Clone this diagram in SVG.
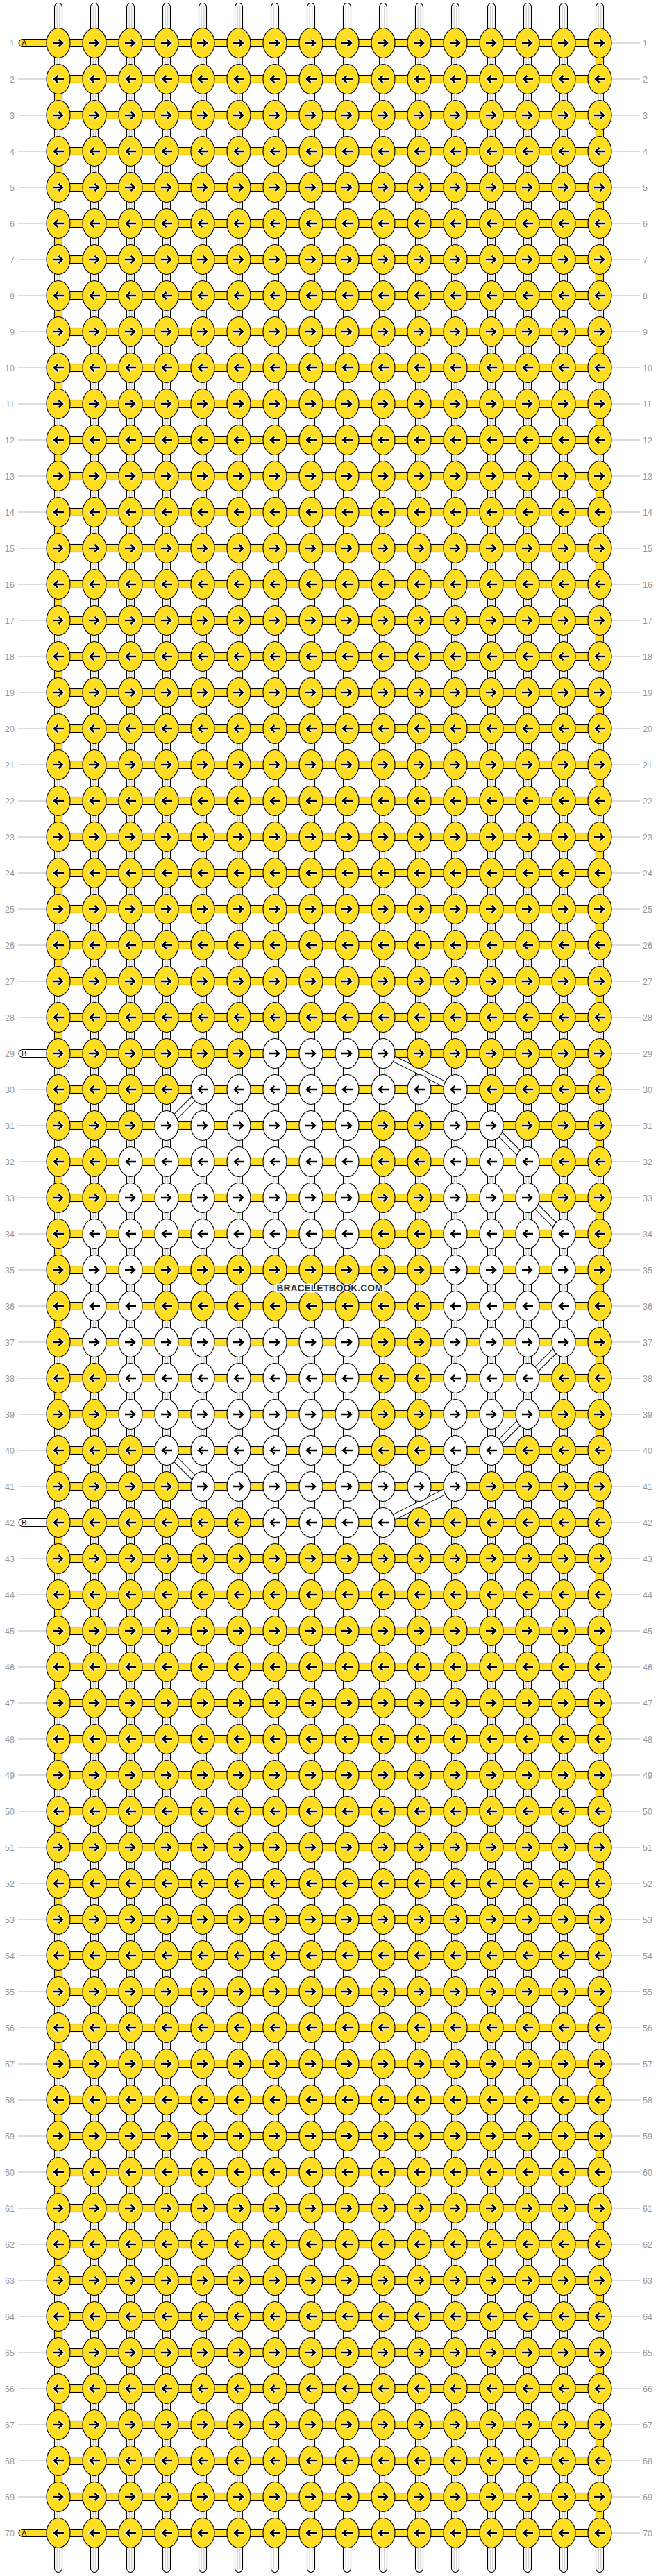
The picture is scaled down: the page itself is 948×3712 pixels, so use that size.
<svg xmlns="http://www.w3.org/2000/svg" width="948" height="3712" viewBox="0 0 948 3712">
<style>
.n{font-family:"Liberation Sans",Arial,sans-serif;font-size:12.5px;fill:#999}
.nl{text-anchor:end}
.g{stroke:#bbb;stroke-width:1;fill:none}
.y{fill:#ffdd22;stroke:#000;stroke-width:1.1}
.w{fill:#fff;stroke:#000;stroke-width:1.1}
.ar{fill:none;stroke:#000;stroke-width:2.4}
.ah{fill:none;stroke:#fff;stroke-width:5}
.il{stroke:#bbb;stroke-width:0.9;fill:none}
.st{font-family:"Liberation Sans",Arial,sans-serif;font-size:11px;fill:#000}
</style>
<defs>
<path id="pR" d="M-8,0H5.5M0.5,-5L6,0L0.5,5"/>
<path id="pL" d="M8,0H-5.5M-0.5,-5L-6,0L-0.5,5"/>
<g id="YR"><ellipse class="y" rx="17" ry="21.5"/><use href="#pR" class="ah"/><use href="#pR" class="ar"/></g>
<g id="YL"><ellipse class="y" rx="17" ry="21.5"/><use href="#pL" class="ah"/><use href="#pL" class="ar"/></g>
<g id="WR"><ellipse class="w" rx="17" ry="21.5"/><use href="#pR" class="ar"/></g>
<g id="WL"><ellipse class="w" rx="17" ry="21.5"/><use href="#pL" class="ar"/></g>
<g id="rowR"><use href="#YR" x="84"/><use href="#YR" x="136"/><use href="#YR" x="188"/><use href="#YR" x="240"/><use href="#YR" x="292"/><use href="#YR" x="344"/><use href="#YR" x="396"/><use href="#YR" x="448"/><use href="#YR" x="500"/><use href="#YR" x="552"/><use href="#YR" x="604"/><use href="#YR" x="656"/><use href="#YR" x="708"/><use href="#YR" x="760"/><use href="#YR" x="812"/><use href="#YR" x="864"/></g>
<g id="rowL"><use href="#YL" x="84"/><use href="#YL" x="136"/><use href="#YL" x="188"/><use href="#YL" x="240"/><use href="#YL" x="292"/><use href="#YL" x="344"/><use href="#YL" x="396"/><use href="#YL" x="448"/><use href="#YL" x="500"/><use href="#YL" x="552"/><use href="#YL" x="604"/><use href="#YL" x="656"/><use href="#YL" x="708"/><use href="#YL" x="760"/><use href="#YL" x="812"/><use href="#YL" x="864"/></g>
<rect id="hs" class="y" x="84" y="-5.5" width="780" height="11"/>
<g id="tp"><rect class="y" x="858.5" y="15" width="11" height="22"/><rect class="y" x="78.5" y="67" width="11" height="22"/></g>
<g id="vs"><rect class="w" x="-5.5" y="4.5" width="11" height="3702" rx="5.5"/><path class="il" d="M-1.8,9V3702M1.8,9V3702"/></g>
<path id="bd" d="M552,1518L656,1570M292,1570L240,1622M708,1622L760,1674M760,1726L812,1778M812,1934L760,1986M760,2038L708,2090M240,2090L292,2142M656,2142L552,2194"/>
</defs>
<g id="warp-threads">
<use href="#vs" x="84"/><use href="#vs" x="136"/><use href="#vs" x="188"/><use href="#vs" x="240"/><use href="#vs" x="292"/><use href="#vs" x="344"/><use href="#vs" x="396"/><use href="#vs" x="448"/><use href="#vs" x="500"/><use href="#vs" x="552"/><use href="#vs" x="604"/><use href="#vs" x="656"/><use href="#vs" x="708"/><use href="#vs" x="760"/><use href="#vs" x="812"/><use href="#vs" x="864"/>
</g>
<g id="connectors">
<g id="row-threads">
<use href="#hs" y="62"/><use href="#hs" y="114"/><use href="#hs" y="166"/><use href="#hs" y="218"/><use href="#hs" y="270"/><use href="#hs" y="322"/><use href="#hs" y="374"/><use href="#hs" y="426"/><use href="#hs" y="478"/><use href="#hs" y="530"/>
<use href="#hs" y="582"/><use href="#hs" y="634"/><use href="#hs" y="686"/><use href="#hs" y="738"/><use href="#hs" y="790"/><use href="#hs" y="842"/><use href="#hs" y="894"/><use href="#hs" y="946"/><use href="#hs" y="998"/><use href="#hs" y="1050"/>
<use href="#hs" y="1102"/><use href="#hs" y="1154"/><use href="#hs" y="1206"/><use href="#hs" y="1258"/><use href="#hs" y="1310"/><use href="#hs" y="1362"/><use href="#hs" y="1414"/><use href="#hs" y="1466"/><use href="#hs" y="1518"/><use href="#hs" y="1570"/>
<use href="#hs" y="1622"/><use href="#hs" y="1674"/><use href="#hs" y="1726"/><use href="#hs" y="1778"/><use href="#hs" y="1830"/><use href="#hs" y="1882"/><use href="#hs" y="1934"/><use href="#hs" y="1986"/><use href="#hs" y="2038"/><use href="#hs" y="2090"/>
<use href="#hs" y="2142"/><use href="#hs" y="2194"/><use href="#hs" y="2246"/><use href="#hs" y="2298"/><use href="#hs" y="2350"/><use href="#hs" y="2402"/><use href="#hs" y="2454"/><use href="#hs" y="2506"/><use href="#hs" y="2558"/><use href="#hs" y="2610"/>
<use href="#hs" y="2662"/><use href="#hs" y="2714"/><use href="#hs" y="2766"/><use href="#hs" y="2818"/><use href="#hs" y="2870"/><use href="#hs" y="2922"/><use href="#hs" y="2974"/><use href="#hs" y="3026"/><use href="#hs" y="3078"/><use href="#hs" y="3130"/>
<use href="#hs" y="3182"/><use href="#hs" y="3234"/><use href="#hs" y="3286"/><use href="#hs" y="3338"/><use href="#hs" y="3390"/><use href="#hs" y="3442"/><use href="#hs" y="3494"/><use href="#hs" y="3546"/><use href="#hs" y="3598"/><use href="#hs" y="3650"/>
</g>
<g id="turns">
<use href="#tp" y="62"/><use href="#tp" y="166"/><use href="#tp" y="270"/><use href="#tp" y="374"/><use href="#tp" y="478"/><use href="#tp" y="582"/><use href="#tp" y="686"/><use href="#tp" y="790"/><use href="#tp" y="894"/><use href="#tp" y="998"/>
<use href="#tp" y="1102"/><use href="#tp" y="1206"/><use href="#tp" y="1310"/><use href="#tp" y="1414"/><use href="#tp" y="1518"/><use href="#tp" y="1622"/><use href="#tp" y="1726"/><use href="#tp" y="1830"/><use href="#tp" y="1934"/><use href="#tp" y="2038"/>
<use href="#tp" y="2142"/><use href="#tp" y="2246"/><use href="#tp" y="2350"/><use href="#tp" y="2454"/><use href="#tp" y="2558"/><use href="#tp" y="2662"/><use href="#tp" y="2766"/><use href="#tp" y="2870"/><use href="#tp" y="2974"/><use href="#tp" y="3078"/>
<use href="#tp" y="3182"/><use href="#tp" y="3286"/><use href="#tp" y="3390"/><use href="#tp" y="3494"/>
<rect class="y" x="858.5" y="3613" width="11" height="22"/>
</g>
<g id="thread-b-floats">
<use href="#bd" fill="none" stroke="#000" stroke-width="9"/>
<use href="#bd" fill="none" stroke="#fff" stroke-width="7"/>
</g>
<g id="end-threads">
<g id="thread-a-start"><rect class="y" x="27" y="56.5" width="50" height="11" rx="5.5"/><text class="st" x="31" y="66">A</text></g>
<g id="thread-b-start"><rect class="w" x="27" y="1512.5" width="50" height="11" rx="5.5"/><text class="st" x="31" y="1522">B</text></g>
<g id="thread-b-end"><rect class="w" x="27" y="2188.5" width="50" height="11" rx="5.5"/><text class="st" x="31" y="2198">B</text></g>
<g id="thread-a-end"><rect class="y" x="27" y="3644.5" width="50" height="11" rx="5.5"/><text class="st" x="31" y="3654">A</text></g>
</g>
</g>
<g id="knots">
<use id="row1" href="#rowR" y="62"/><use id="row2" href="#rowL" y="114"/><use id="row3" href="#rowR" y="166"/><use id="row4" href="#rowL" y="218"/><use id="row5" href="#rowR" y="270"/>
<use id="row6" href="#rowL" y="322"/><use id="row7" href="#rowR" y="374"/><use id="row8" href="#rowL" y="426"/><use id="row9" href="#rowR" y="478"/><use id="row10" href="#rowL" y="530"/>
<use id="row11" href="#rowR" y="582"/><use id="row12" href="#rowL" y="634"/><use id="row13" href="#rowR" y="686"/><use id="row14" href="#rowL" y="738"/><use id="row15" href="#rowR" y="790"/>
<use id="row16" href="#rowL" y="842"/><use id="row17" href="#rowR" y="894"/><use id="row18" href="#rowL" y="946"/><use id="row19" href="#rowR" y="998"/><use id="row20" href="#rowL" y="1050"/>
<use id="row21" href="#rowR" y="1102"/><use id="row22" href="#rowL" y="1154"/><use id="row23" href="#rowR" y="1206"/><use id="row24" href="#rowL" y="1258"/><use id="row25" href="#rowR" y="1310"/>
<use id="row26" href="#rowL" y="1362"/><use id="row27" href="#rowR" y="1414"/><use id="row28" href="#rowL" y="1466"/>
<g id="row29" transform="translate(0,1518)"><use id="k29-1" href="#YR" x="84"/><use id="k29-2" href="#YR" x="136"/><use id="k29-3" href="#YR" x="188"/><use id="k29-4" href="#YR" x="240"/><use id="k29-5" href="#YR" x="292"/><use id="k29-6" href="#YR" x="344"/><use id="k29-7" href="#WR" x="396"/><use id="k29-8" href="#WR" x="448"/><use id="k29-9" href="#WR" x="500"/><use id="k29-10" href="#WR" x="552"/><use id="k29-11" href="#YR" x="604"/><use id="k29-12" href="#YR" x="656"/><use id="k29-13" href="#YR" x="708"/><use id="k29-14" href="#YR" x="760"/><use id="k29-15" href="#YR" x="812"/><use id="k29-16" href="#YR" x="864"/></g>
<g id="row30" transform="translate(0,1570)"><use id="k30-1" href="#YL" x="84"/><use id="k30-2" href="#YL" x="136"/><use id="k30-3" href="#YL" x="188"/><use id="k30-4" href="#YL" x="240"/><use id="k30-5" href="#WL" x="292"/><use id="k30-6" href="#WL" x="344"/><use id="k30-7" href="#WL" x="396"/><use id="k30-8" href="#WL" x="448"/><use id="k30-9" href="#WL" x="500"/><use id="k30-10" href="#WL" x="552"/><use id="k30-11" href="#WL" x="604"/><use id="k30-12" href="#WL" x="656"/><use id="k30-13" href="#YL" x="708"/><use id="k30-14" href="#YL" x="760"/><use id="k30-15" href="#YL" x="812"/><use id="k30-16" href="#YL" x="864"/></g>
<g id="row31" transform="translate(0,1622)"><use id="k31-1" href="#YR" x="84"/><use id="k31-2" href="#YR" x="136"/><use id="k31-3" href="#YR" x="188"/><use id="k31-4" href="#WR" x="240"/><use id="k31-5" href="#WR" x="292"/><use id="k31-6" href="#WR" x="344"/><use id="k31-7" href="#WR" x="396"/><use id="k31-8" href="#WR" x="448"/><use id="k31-9" href="#WR" x="500"/><use id="k31-10" href="#YR" x="552"/><use id="k31-11" href="#YR" x="604"/><use id="k31-12" href="#WR" x="656"/><use id="k31-13" href="#WR" x="708"/><use id="k31-14" href="#YR" x="760"/><use id="k31-15" href="#YR" x="812"/><use id="k31-16" href="#YR" x="864"/></g>
<g id="row32" transform="translate(0,1674)"><use id="k32-1" href="#YL" x="84"/><use id="k32-2" href="#YL" x="136"/><use id="k32-3" href="#WL" x="188"/><use id="k32-4" href="#WL" x="240"/><use id="k32-5" href="#WL" x="292"/><use id="k32-6" href="#WL" x="344"/><use id="k32-7" href="#WL" x="396"/><use id="k32-8" href="#WL" x="448"/><use id="k32-9" href="#WL" x="500"/><use id="k32-10" href="#YL" x="552"/><use id="k32-11" href="#YL" x="604"/><use id="k32-12" href="#WL" x="656"/><use id="k32-13" href="#WL" x="708"/><use id="k32-14" href="#WL" x="760"/><use id="k32-15" href="#YL" x="812"/><use id="k32-16" href="#YL" x="864"/></g>
<g id="row33" transform="translate(0,1726)"><use id="k33-1" href="#YR" x="84"/><use id="k33-2" href="#YR" x="136"/><use id="k33-3" href="#WR" x="188"/><use id="k33-4" href="#WR" x="240"/><use id="k33-5" href="#WR" x="292"/><use id="k33-6" href="#WR" x="344"/><use id="k33-7" href="#WR" x="396"/><use id="k33-8" href="#WR" x="448"/><use id="k33-9" href="#WR" x="500"/><use id="k33-10" href="#YR" x="552"/><use id="k33-11" href="#YR" x="604"/><use id="k33-12" href="#WR" x="656"/><use id="k33-13" href="#WR" x="708"/><use id="k33-14" href="#WR" x="760"/><use id="k33-15" href="#YR" x="812"/><use id="k33-16" href="#YR" x="864"/></g>
<g id="row34" transform="translate(0,1778)"><use id="k34-1" href="#YL" x="84"/><use id="k34-2" href="#WL" x="136"/><use id="k34-3" href="#WL" x="188"/><use id="k34-4" href="#WL" x="240"/><use id="k34-5" href="#WL" x="292"/><use id="k34-6" href="#WL" x="344"/><use id="k34-7" href="#WL" x="396"/><use id="k34-8" href="#WL" x="448"/><use id="k34-9" href="#WL" x="500"/><use id="k34-10" href="#YL" x="552"/><use id="k34-11" href="#YL" x="604"/><use id="k34-12" href="#WL" x="656"/><use id="k34-13" href="#WL" x="708"/><use id="k34-14" href="#WL" x="760"/><use id="k34-15" href="#WL" x="812"/><use id="k34-16" href="#YL" x="864"/></g>
<g id="row35" transform="translate(0,1830)"><use id="k35-1" href="#YR" x="84"/><use id="k35-2" href="#WR" x="136"/><use id="k35-3" href="#WR" x="188"/><use id="k35-4" href="#YR" x="240"/><use id="k35-5" href="#YR" x="292"/><use id="k35-6" href="#YR" x="344"/><use id="k35-7" href="#YR" x="396"/><use id="k35-8" href="#YR" x="448"/><use id="k35-9" href="#YR" x="500"/><use id="k35-10" href="#YR" x="552"/><use id="k35-11" href="#YR" x="604"/><use id="k35-12" href="#WR" x="656"/><use id="k35-13" href="#WR" x="708"/><use id="k35-14" href="#WR" x="760"/><use id="k35-15" href="#WR" x="812"/><use id="k35-16" href="#YR" x="864"/></g>
<g id="row36" transform="translate(0,1882)"><use id="k36-1" href="#YL" x="84"/><use id="k36-2" href="#WL" x="136"/><use id="k36-3" href="#WL" x="188"/><use id="k36-4" href="#YL" x="240"/><use id="k36-5" href="#YL" x="292"/><use id="k36-6" href="#YL" x="344"/><use id="k36-7" href="#YL" x="396"/><use id="k36-8" href="#YL" x="448"/><use id="k36-9" href="#YL" x="500"/><use id="k36-10" href="#YL" x="552"/><use id="k36-11" href="#YL" x="604"/><use id="k36-12" href="#WL" x="656"/><use id="k36-13" href="#WL" x="708"/><use id="k36-14" href="#WL" x="760"/><use id="k36-15" href="#WL" x="812"/><use id="k36-16" href="#YL" x="864"/></g>
<g id="row37" transform="translate(0,1934)"><use id="k37-1" href="#YR" x="84"/><use id="k37-2" href="#WR" x="136"/><use id="k37-3" href="#WR" x="188"/><use id="k37-4" href="#WR" x="240"/><use id="k37-5" href="#WR" x="292"/><use id="k37-6" href="#WR" x="344"/><use id="k37-7" href="#WR" x="396"/><use id="k37-8" href="#WR" x="448"/><use id="k37-9" href="#WR" x="500"/><use id="k37-10" href="#YR" x="552"/><use id="k37-11" href="#YR" x="604"/><use id="k37-12" href="#WR" x="656"/><use id="k37-13" href="#WR" x="708"/><use id="k37-14" href="#WR" x="760"/><use id="k37-15" href="#WR" x="812"/><use id="k37-16" href="#YR" x="864"/></g>
<g id="row38" transform="translate(0,1986)"><use id="k38-1" href="#YL" x="84"/><use id="k38-2" href="#YL" x="136"/><use id="k38-3" href="#WL" x="188"/><use id="k38-4" href="#WL" x="240"/><use id="k38-5" href="#WL" x="292"/><use id="k38-6" href="#WL" x="344"/><use id="k38-7" href="#WL" x="396"/><use id="k38-8" href="#WL" x="448"/><use id="k38-9" href="#WL" x="500"/><use id="k38-10" href="#YL" x="552"/><use id="k38-11" href="#YL" x="604"/><use id="k38-12" href="#WL" x="656"/><use id="k38-13" href="#WL" x="708"/><use id="k38-14" href="#WL" x="760"/><use id="k38-15" href="#YL" x="812"/><use id="k38-16" href="#YL" x="864"/></g>
<g id="row39" transform="translate(0,2038)"><use id="k39-1" href="#YR" x="84"/><use id="k39-2" href="#YR" x="136"/><use id="k39-3" href="#WR" x="188"/><use id="k39-4" href="#WR" x="240"/><use id="k39-5" href="#WR" x="292"/><use id="k39-6" href="#WR" x="344"/><use id="k39-7" href="#WR" x="396"/><use id="k39-8" href="#WR" x="448"/><use id="k39-9" href="#WR" x="500"/><use id="k39-10" href="#YR" x="552"/><use id="k39-11" href="#YR" x="604"/><use id="k39-12" href="#WR" x="656"/><use id="k39-13" href="#WR" x="708"/><use id="k39-14" href="#WR" x="760"/><use id="k39-15" href="#YR" x="812"/><use id="k39-16" href="#YR" x="864"/></g>
<g id="row40" transform="translate(0,2090)"><use id="k40-1" href="#YL" x="84"/><use id="k40-2" href="#YL" x="136"/><use id="k40-3" href="#YL" x="188"/><use id="k40-4" href="#WL" x="240"/><use id="k40-5" href="#WL" x="292"/><use id="k40-6" href="#WL" x="344"/><use id="k40-7" href="#WL" x="396"/><use id="k40-8" href="#WL" x="448"/><use id="k40-9" href="#WL" x="500"/><use id="k40-10" href="#YL" x="552"/><use id="k40-11" href="#YL" x="604"/><use id="k40-12" href="#WL" x="656"/><use id="k40-13" href="#WL" x="708"/><use id="k40-14" href="#YL" x="760"/><use id="k40-15" href="#YL" x="812"/><use id="k40-16" href="#YL" x="864"/></g>
<g id="row41" transform="translate(0,2142)"><use id="k41-1" href="#YR" x="84"/><use id="k41-2" href="#YR" x="136"/><use id="k41-3" href="#YR" x="188"/><use id="k41-4" href="#YR" x="240"/><use id="k41-5" href="#WR" x="292"/><use id="k41-6" href="#WR" x="344"/><use id="k41-7" href="#WR" x="396"/><use id="k41-8" href="#WR" x="448"/><use id="k41-9" href="#WR" x="500"/><use id="k41-10" href="#WR" x="552"/><use id="k41-11" href="#WR" x="604"/><use id="k41-12" href="#WR" x="656"/><use id="k41-13" href="#YR" x="708"/><use id="k41-14" href="#YR" x="760"/><use id="k41-15" href="#YR" x="812"/><use id="k41-16" href="#YR" x="864"/></g>
<g id="row42" transform="translate(0,2194)"><use id="k42-1" href="#YL" x="84"/><use id="k42-2" href="#YL" x="136"/><use id="k42-3" href="#YL" x="188"/><use id="k42-4" href="#YL" x="240"/><use id="k42-5" href="#YL" x="292"/><use id="k42-6" href="#YL" x="344"/><use id="k42-7" href="#WL" x="396"/><use id="k42-8" href="#WL" x="448"/><use id="k42-9" href="#WL" x="500"/><use id="k42-10" href="#WL" x="552"/><use id="k42-11" href="#YL" x="604"/><use id="k42-12" href="#YL" x="656"/><use id="k42-13" href="#YL" x="708"/><use id="k42-14" href="#YL" x="760"/><use id="k42-15" href="#YL" x="812"/><use id="k42-16" href="#YL" x="864"/></g>
<use id="row43" href="#rowR" y="2246"/><use id="row44" href="#rowL" y="2298"/><use id="row45" href="#rowR" y="2350"/>
<use id="row46" href="#rowL" y="2402"/><use id="row47" href="#rowR" y="2454"/><use id="row48" href="#rowL" y="2506"/><use id="row49" href="#rowR" y="2558"/><use id="row50" href="#rowL" y="2610"/>
<use id="row51" href="#rowR" y="2662"/><use id="row52" href="#rowL" y="2714"/><use id="row53" href="#rowR" y="2766"/><use id="row54" href="#rowL" y="2818"/><use id="row55" href="#rowR" y="2870"/>
<use id="row56" href="#rowL" y="2922"/><use id="row57" href="#rowR" y="2974"/><use id="row58" href="#rowL" y="3026"/><use id="row59" href="#rowR" y="3078"/><use id="row60" href="#rowL" y="3130"/>
<use id="row61" href="#rowR" y="3182"/><use id="row62" href="#rowL" y="3234"/><use id="row63" href="#rowR" y="3286"/><use id="row64" href="#rowL" y="3338"/><use id="row65" href="#rowR" y="3390"/>
<use id="row66" href="#rowL" y="3442"/><use id="row67" href="#rowR" y="3494"/><use id="row68" href="#rowL" y="3546"/><use id="row69" href="#rowR" y="3598"/><use id="row70" href="#rowL" y="3650"/>
</g>
<g id="row-labels">
<path class="g" d="M26,114H66M26,166H66M26,218H66M26,270H66M26,322H66M26,374H66M26,426H66M26,478H66M26,530H66M26,582H66M26,634H66M26,686H66M26,738H66M26,790H66M26,842H66M26,894H66M26,946H66M26,998H66M26,1050H66M26,1102H66M26,1154H66M26,1206H66M26,1258H66M26,1310H66M26,1362H66M26,1414H66M26,1466H66M26,1570H66M26,1622H66M26,1674H66M26,1726H66M26,1778H66M26,1830H66M26,1882H66M26,1934H66M26,1986H66M26,2038H66M26,2090H66M26,2142H66M26,2246H66M26,2298H66M26,2350H66M26,2402H66M26,2454H66M26,2506H66M26,2558H66M26,2610H66M26,2662H66M26,2714H66M26,2766H66M26,2818H66M26,2870H66M26,2922H66M26,2974H66M26,3026H66M26,3078H66M26,3130H66M26,3182H66M26,3234H66M26,3286H66M26,3338H66M26,3390H66M26,3442H66M26,3494H66M26,3546H66M26,3598H66"/>
<path class="g" d="M882,62H922M882,114H922M882,166H922M882,218H922M882,270H922M882,322H922M882,374H922M882,426H922M882,478H922M882,530H922M882,582H922M882,634H922M882,686H922M882,738H922M882,790H922M882,842H922M882,894H922M882,946H922M882,998H922M882,1050H922M882,1102H922M882,1154H922M882,1206H922M882,1258H922M882,1310H922M882,1362H922M882,1414H922M882,1466H922M882,1518H922M882,1570H922M882,1622H922M882,1674H922M882,1726H922M882,1778H922M882,1830H922M882,1882H922M882,1934H922M882,1986H922M882,2038H922M882,2090H922M882,2142H922M882,2194H922M882,2246H922M882,2298H922M882,2350H922M882,2402H922M882,2454H922M882,2506H922M882,2558H922M882,2610H922M882,2662H922M882,2714H922M882,2766H922M882,2818H922M882,2870H922M882,2922H922M882,2974H922M882,3026H922M882,3078H922M882,3130H922M882,3182H922M882,3234H922M882,3286H922M882,3338H922M882,3390H922M882,3442H922M882,3494H922M882,3546H922M882,3598H922M882,3650H922"/>
<g transform="translate(0,4.5)">
<text class="n nl" x="21" y="62">1</text><text class="n nl" x="21" y="114">2</text><text class="n nl" x="21" y="166">3</text><text class="n nl" x="21" y="218">4</text><text class="n nl" x="21" y="270">5</text><text class="n nl" x="21" y="322">6</text><text class="n nl" x="21" y="374">7</text><text class="n nl" x="21" y="426">8</text><text class="n nl" x="21" y="478">9</text><text class="n nl" x="21" y="530">10</text>
<text class="n nl" x="21" y="582">11</text><text class="n nl" x="21" y="634">12</text><text class="n nl" x="21" y="686">13</text><text class="n nl" x="21" y="738">14</text><text class="n nl" x="21" y="790">15</text><text class="n nl" x="21" y="842">16</text><text class="n nl" x="21" y="894">17</text><text class="n nl" x="21" y="946">18</text><text class="n nl" x="21" y="998">19</text><text class="n nl" x="21" y="1050">20</text>
<text class="n nl" x="21" y="1102">21</text><text class="n nl" x="21" y="1154">22</text><text class="n nl" x="21" y="1206">23</text><text class="n nl" x="21" y="1258">24</text><text class="n nl" x="21" y="1310">25</text><text class="n nl" x="21" y="1362">26</text><text class="n nl" x="21" y="1414">27</text><text class="n nl" x="21" y="1466">28</text><text class="n nl" x="21" y="1518">29</text><text class="n nl" x="21" y="1570">30</text>
<text class="n nl" x="21" y="1622">31</text><text class="n nl" x="21" y="1674">32</text><text class="n nl" x="21" y="1726">33</text><text class="n nl" x="21" y="1778">34</text><text class="n nl" x="21" y="1830">35</text><text class="n nl" x="21" y="1882">36</text><text class="n nl" x="21" y="1934">37</text><text class="n nl" x="21" y="1986">38</text><text class="n nl" x="21" y="2038">39</text><text class="n nl" x="21" y="2090">40</text>
<text class="n nl" x="21" y="2142">41</text><text class="n nl" x="21" y="2194">42</text><text class="n nl" x="21" y="2246">43</text><text class="n nl" x="21" y="2298">44</text><text class="n nl" x="21" y="2350">45</text><text class="n nl" x="21" y="2402">46</text><text class="n nl" x="21" y="2454">47</text><text class="n nl" x="21" y="2506">48</text><text class="n nl" x="21" y="2558">49</text><text class="n nl" x="21" y="2610">50</text>
<text class="n nl" x="21" y="2662">51</text><text class="n nl" x="21" y="2714">52</text><text class="n nl" x="21" y="2766">53</text><text class="n nl" x="21" y="2818">54</text><text class="n nl" x="21" y="2870">55</text><text class="n nl" x="21" y="2922">56</text><text class="n nl" x="21" y="2974">57</text><text class="n nl" x="21" y="3026">58</text><text class="n nl" x="21" y="3078">59</text><text class="n nl" x="21" y="3130">60</text>
<text class="n nl" x="21" y="3182">61</text><text class="n nl" x="21" y="3234">62</text><text class="n nl" x="21" y="3286">63</text><text class="n nl" x="21" y="3338">64</text><text class="n nl" x="21" y="3390">65</text><text class="n nl" x="21" y="3442">66</text><text class="n nl" x="21" y="3494">67</text><text class="n nl" x="21" y="3546">68</text><text class="n nl" x="21" y="3598">69</text><text class="n nl" x="21" y="3650">70</text>
<text class="n" x="926" y="62">1</text><text class="n" x="926" y="114">2</text><text class="n" x="926" y="166">3</text><text class="n" x="926" y="218">4</text><text class="n" x="926" y="270">5</text><text class="n" x="926" y="322">6</text><text class="n" x="926" y="374">7</text><text class="n" x="926" y="426">8</text><text class="n" x="926" y="478">9</text><text class="n" x="926" y="530">10</text>
<text class="n" x="926" y="582">11</text><text class="n" x="926" y="634">12</text><text class="n" x="926" y="686">13</text><text class="n" x="926" y="738">14</text><text class="n" x="926" y="790">15</text><text class="n" x="926" y="842">16</text><text class="n" x="926" y="894">17</text><text class="n" x="926" y="946">18</text><text class="n" x="926" y="998">19</text><text class="n" x="926" y="1050">20</text>
<text class="n" x="926" y="1102">21</text><text class="n" x="926" y="1154">22</text><text class="n" x="926" y="1206">23</text><text class="n" x="926" y="1258">24</text><text class="n" x="926" y="1310">25</text><text class="n" x="926" y="1362">26</text><text class="n" x="926" y="1414">27</text><text class="n" x="926" y="1466">28</text><text class="n" x="926" y="1518">29</text><text class="n" x="926" y="1570">30</text>
<text class="n" x="926" y="1622">31</text><text class="n" x="926" y="1674">32</text><text class="n" x="926" y="1726">33</text><text class="n" x="926" y="1778">34</text><text class="n" x="926" y="1830">35</text><text class="n" x="926" y="1882">36</text><text class="n" x="926" y="1934">37</text><text class="n" x="926" y="1986">38</text><text class="n" x="926" y="2038">39</text><text class="n" x="926" y="2090">40</text>
<text class="n" x="926" y="2142">41</text><text class="n" x="926" y="2194">42</text><text class="n" x="926" y="2246">43</text><text class="n" x="926" y="2298">44</text><text class="n" x="926" y="2350">45</text><text class="n" x="926" y="2402">46</text><text class="n" x="926" y="2454">47</text><text class="n" x="926" y="2506">48</text><text class="n" x="926" y="2558">49</text><text class="n" x="926" y="2610">50</text>
<text class="n" x="926" y="2662">51</text><text class="n" x="926" y="2714">52</text><text class="n" x="926" y="2766">53</text><text class="n" x="926" y="2818">54</text><text class="n" x="926" y="2870">55</text><text class="n" x="926" y="2922">56</text><text class="n" x="926" y="2974">57</text><text class="n" x="926" y="3026">58</text><text class="n" x="926" y="3078">59</text><text class="n" x="926" y="3130">60</text>
<text class="n" x="926" y="3182">61</text><text class="n" x="926" y="3234">62</text><text class="n" x="926" y="3286">63</text><text class="n" x="926" y="3338">64</text><text class="n" x="926" y="3390">65</text><text class="n" x="926" y="3442">66</text><text class="n" x="926" y="3494">67</text><text class="n" x="926" y="3546">68</text><text class="n" x="926" y="3598">69</text><text class="n" x="926" y="3650">70</text>
</g>
</g>
<text id="watermark" x="475" y="1861" text-anchor="middle" textLength="153" lengthAdjust="spacingAndGlyphs" font-family="'Liberation Sans',Arial,sans-serif" font-size="15" font-weight="bold" fill="#333" stroke="#fff" stroke-width="3" paint-order="stroke" stroke-linejoin="round">BRACELETBOOK.COM</text>
</svg>
